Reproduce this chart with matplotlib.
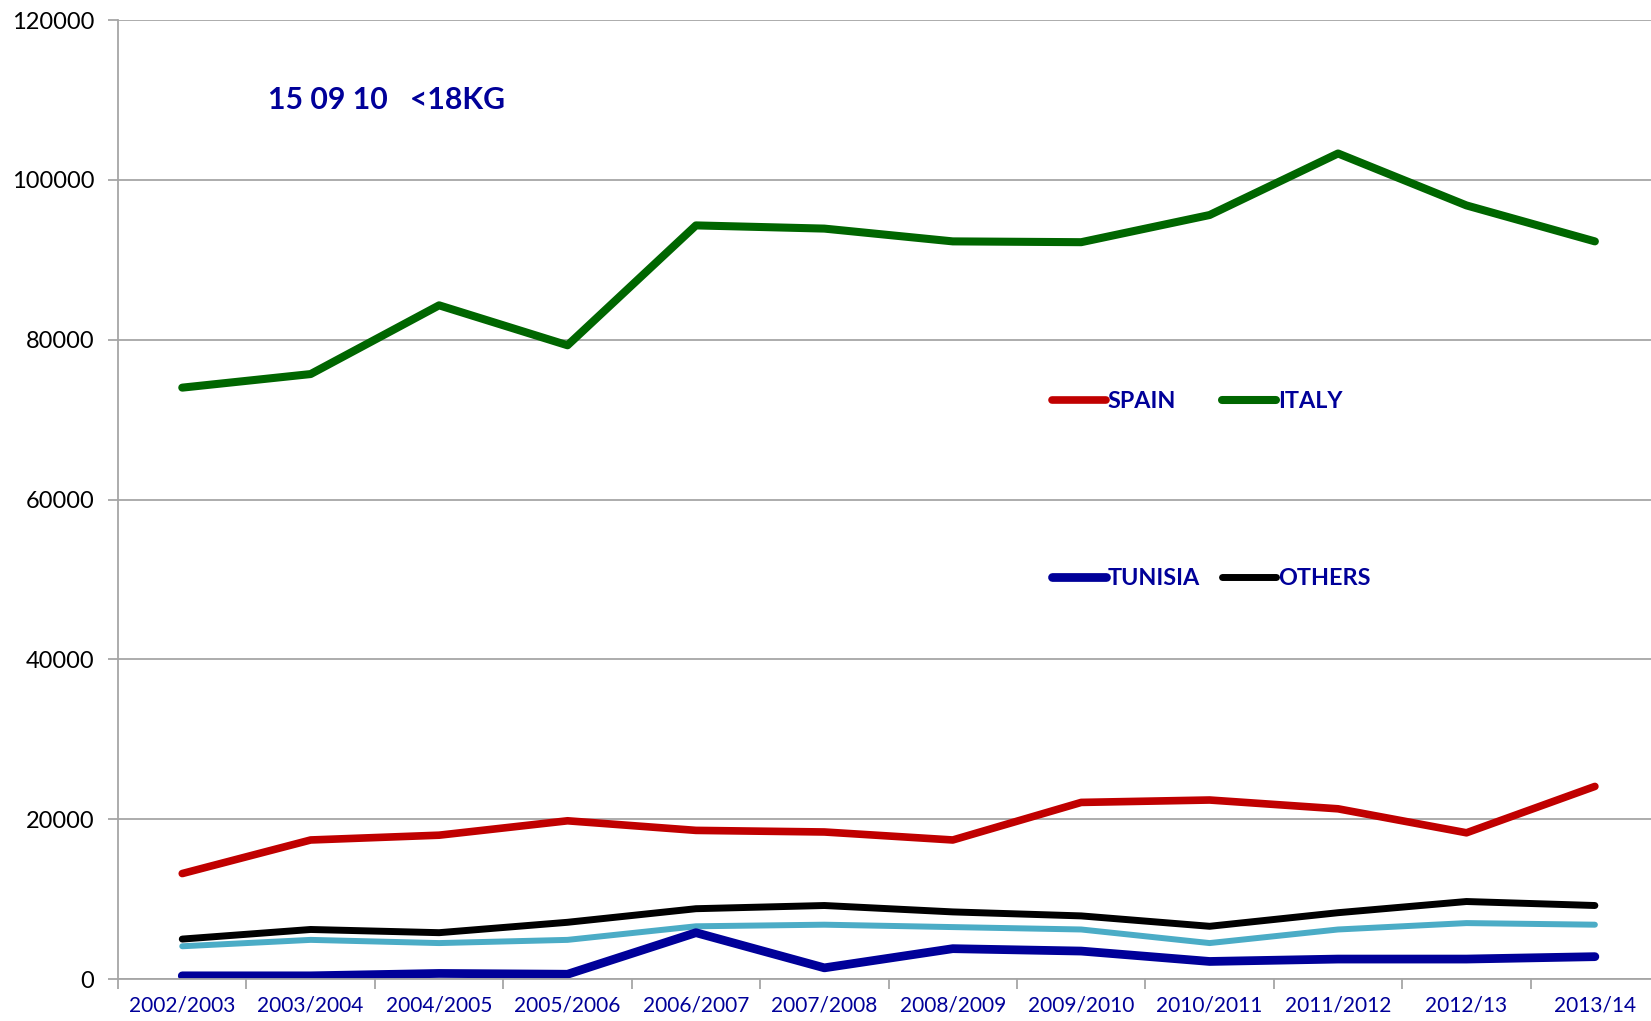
import numpy as np
import matplotlib.pyplot as plt

seasons = ["2002/2003", "2003/2004", "2004/2005", "2005/2006", "2006/2007", "2007/2008",
           "2008/2009", "2009/2010", "2010/2011", "2011/2012", "2012/13", "2013/14"]

italy = [74000, 75700, 84300, 79300, 94300, 93900, 92300, 92200, 95600, 103300, 96800, 92300]
spain = [13200, 17400, 18000, 19800, 18600, 18400, 17400, 22100, 22400, 21300, 18300, 24100]
others = [5000, 6200, 5800, 7100, 8800, 9200, 8400, 7900, 6600, 8300, 9700, 9200]
cyan_series = [4100, 4900, 4500, 4900, 6600, 6800, 6500, 6200, 4500, 6200, 7000, 6800]
tunisia = [400, 400, 700, 600, 5800, 1400, 3800, 3500, 2200, 2500, 2500, 2800]

title_text = "15 09 10   <18KG"
navy = "#000099"
grid_gray = "#A6A6A6"

plt.rcParams['font.family'] = ['Lato', 'DejaVu Sans']

fig = plt.figure(figsize=(16.51, 10.21), dpi=100)
ax = fig.add_axes([0.0715, 0.0411, 0.9334, 0.9393])

x = np.arange(len(seasons))
kw = dict(solid_capstyle='round', solid_joinstyle='round')
ax.plot(x, cyan_series, color="#4BACC6", lw=4.3, **kw)
ax.plot(x, others, color="black", lw=5.0, label="OTHERS", **kw)
ax.plot(x, tunisia, color=navy, lw=6.3, label="TUNISIA", **kw)
ax.plot(x, spain, color="#C00000", lw=5.5, label="SPAIN", **kw)
ax.plot(x, italy, color="#006600", lw=5.8, label="ITALY", **kw)

ax.set_xlim(-0.5, len(seasons) - 0.5)
ax.set_ylim(0, 120000)
ax.set_yticks(np.arange(0, 120001, 20000))
ax.set_yticklabels([str(v) for v in range(0, 120001, 20000)], fontsize=17)
ax.yaxis.grid(True, color=grid_gray, lw=1.3)
ax.set_axisbelow(True)

ax.set_xticks(np.arange(-0.5, len(seasons), 1.0))
ax.set_xticklabels([])
ax.set_xticks(x, minor=True)
ax.set_xticklabels(seasons, minor=True, fontsize=15, color=navy)
ax.tick_params(axis='x', which='minor', length=0, pad=12)
ax.tick_params(axis='x', which='major', length=7, color=grid_gray, width=1.3, direction='out')
ax.tick_params(axis='y', length=7, color=grid_gray, width=1.3, pad=10)

for s in ['top', 'right']:
    ax.spines[s].set_visible(False)
for s in ['left', 'bottom']:
    ax.spines[s].set_color(grid_gray)
    ax.spines[s].set_linewidth(1.3)

ax.text(0.097, 0.917, title_text, transform=ax.transAxes, fontsize=21.8, fontweight='bold',
        color=navy, va='center', ha='left')

handles, labels = ax.get_legend_handles_labels()
order = ["SPAIN", "TUNISIA", "ITALY", "OTHERS"]
hmap = dict(zip(labels, handles))
leg = ax.legend([hmap[k] for k in order], order, ncol=2, frameon=False,
                loc='upper left', bbox_to_anchor=(0.606, 0.613),
                prop={'weight': 'bold', 'size': 16.8}, labelcolor=navy,
                handlelength=2.3, handletextpad=0.1, labelspacing=6.7, columnspacing=0.95,
                borderaxespad=0, borderpad=0)

fig.savefig("out.png", dpi=100)
